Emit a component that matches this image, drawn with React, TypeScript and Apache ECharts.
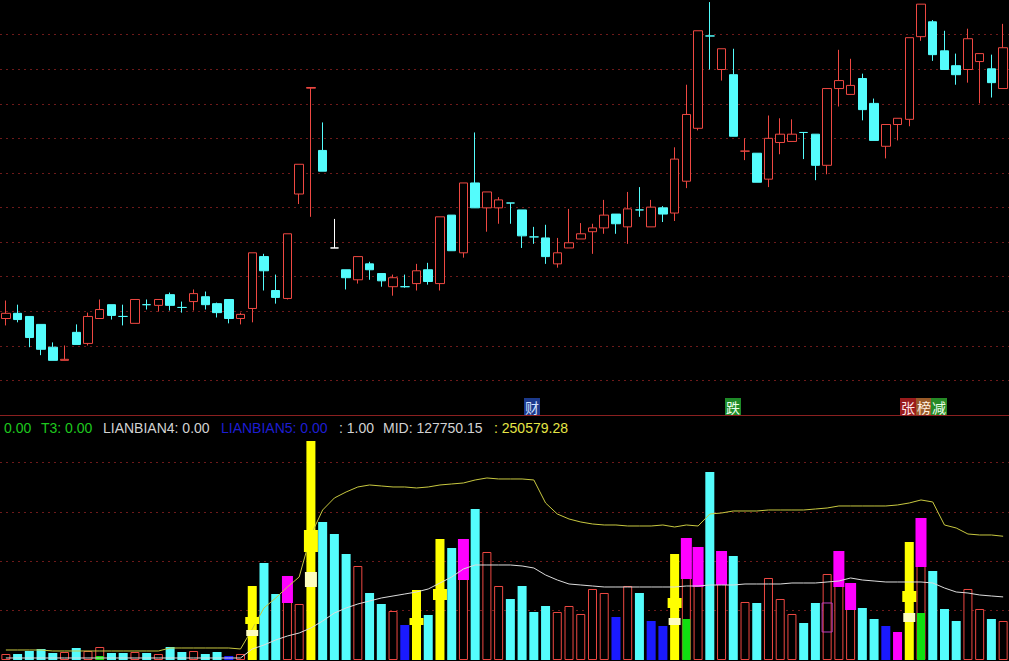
import React, { useEffect, useRef } from "react";
import * as echarts from "echarts";

// ---------- DATA ----------
const categories = Array.from({ length: 86 }, (_, i) => `D${i + 1}`);

const opens = [
  10.79, 10.94, 10.85, 10.62, 9.96, 9.58, 10.39, 10.07, 10.79, 11.19,
  10.85, 10.65, 11.19, 11.17, 11.48, 11.11, 11.28, 11.42, 11.22, 11.34,
  10.79, 11.08, 12.58, 11.6, 11.37, 14.39, 17.45, 15.65, 12.83, 12.2,
  11.91, 12.37, 12.09, 11.71, 11.71, 11.8, 12.2, 11.8, 13.78, 12.69,
  14.71, 13.99, 13.99, 14.13, 13.93, 13.15, 13.12, 12.37, 12.83, 13.09,
  13.3, 13.41, 13.81, 13.44, 13.93, 13.44, 13.99, 13.84, 14.76, 16.29,
  18.96, 17.99, 17.84, 15.63, 15.57, 14.82, 15.88, 15.91, 16.17, 16.12,
  15.22, 17.44, 17.27, 17.73, 17.01, 15.77, 16.4, 16.55, 18.94, 19.37,
  18.53, 18.1, 17.99, 18.22, 18.01, 17.44,
];
const closes = [
  10.94, 10.76, 10.24, 9.9, 9.58, 9.61, 10.04, 10.85, 11.05, 10.88,
  10.85, 11.34, 11.19, 11.34, 11.17, 11.11, 11.51, 11.19, 10.96, 10.79,
  10.91, 12.69, 12.17, 11.4, 13.24, 15.25, 17.47, 15.05, 12.83, 11.97,
  12.58, 12.2, 11.88, 11.97, 11.71, 12.17, 11.86, 13.73, 12.75, 14.71,
  13.99, 14.45, 14.22, 14.13, 13.18, 13.15, 12.58, 12.69, 12.98, 13.24,
  13.41, 13.78, 13.53, 13.96, 13.93, 14.01, 13.81, 15.4, 16.69, 19.11,
  18.96, 18.59, 16.06, 15.63, 14.73, 16.0, 16.12, 16.12, 16.17, 15.22,
  17.44, 17.67, 17.53, 16.83, 15.94, 16.4, 16.58, 18.91, 19.88, 18.42,
  17.99, 17.84, 18.88, 18.45, 17.61, 18.62,
];
const lows = [
  10.59, 10.68, 9.96, 9.73, 9.58, 9.58, 10.04, 10.01, 10.79, 10.76,
  10.59, 10.65, 11.05, 10.99, 11.02, 10.96, 11.02, 11.05, 10.82, 10.65,
  10.62, 10.68, 11.6, 11.22, 11.34, 14.1, 13.73, 15.05, 12.83, 11.63,
  11.8, 11.91, 11.71, 11.45, 11.68, 11.6, 11.77, 11.6, 12.75, 12.55,
  13.99, 13.3, 13.53, 13.53, 12.83, 12.95, 12.37, 12.26, 12.83, 13.09,
  12.66, 13.24, 13.24, 12.95, 13.73, 13.44, 13.58, 13.61, 14.56, 16.23,
  17.99, 17.67, 16.06, 15.37, 14.73, 14.59, 15.54, 15.91, 15.4, 14.79,
  14.96, 16.92, 17.27, 16.52, 15.94, 15.42, 15.94, 16.35, 18.82, 18.24,
  17.99, 17.55, 17.61, 17.01, 17.18, 17.44,
];
const highs = [
  11.31, 11.19, 10.85, 10.62, 10.1, 10.01, 10.62, 10.96, 11.34, 11.19,
  11.19, 11.34, 11.34, 11.34, 11.54, 11.28, 11.63, 11.57, 11.25, 11.34,
  10.96, 12.69, 12.66, 12.06, 13.24, 15.25, 17.47, 16.46, 13.67, 12.2,
  12.58, 12.43, 12.09, 12.06, 12.06, 12.37, 12.4, 13.73, 13.78, 14.71,
  16.17, 14.45, 14.3, 14.13, 13.93, 13.44, 13.5, 13.12, 13.96, 13.55,
  13.53, 14.22, 13.81, 14.45, 14.59, 14.22, 14.04, 15.74, 17.55, 19.11,
  19.94, 18.59, 18.59, 16.0, 15.57, 16.66, 16.58, 16.55, 16.17, 16.12,
  17.44, 18.56, 18.3, 17.87, 17.15, 16.4, 16.58, 18.91, 19.88, 19.42,
  19.11, 18.45, 19.17, 18.45, 18.42, 19.31,
];
// u = up (red hollow), d = down (cyan), w = flat (white)
const candleKinds = [
  "u", "d", "d", "d", "d", "u", "d", "u", "u", "d",
  "d", "u", "d", "u", "d", "d", "u", "d", "d", "d",
  "u", "u", "d", "d", "u", "u", "u", "d", "w", "d",
  "u", "d", "d", "u", "d", "u", "d", "u", "d", "u",
  "d", "u", "u", "d", "d", "d", "d", "u", "u", "u",
  "u", "u", "d", "u", "d", "u", "d", "u", "u", "u",
  "d", "u", "d", "u", "d", "u", "u", "u", "d", "d",
  "u", "u", "u", "d", "d", "u", "u", "u", "u", "d",
  "d", "d", "u", "u", "d", "u",
];

const volumes = [
  12150, 12150, 18225, 22275, 14175, 16200, 24300, 18225, 26325, 14175,
  14175, 16200, 14175, 12150, 26325, 16200, 18225, 12150, 16200, 8100,
  12150, 149850, 196425, 133650, 170100, 113400, 443475, 279450, 255150, 214650,
  190350, 135675, 113400, 99225, 70875, 141750, 91125, 245025, 226800, 245025,
  305775, 218700, 149850, 123525, 149850, 97200, 109350, 97200, 109350, 93150,
  143775, 135675, 87075, 149850, 135675, 78975, 68850, 214650, 247050, 228825,
  380700, 220725, 210600, 117450, 115425, 166050, 123525, 93150, 74925, 115425,
  174150, 220725, 155925, 105300, 83025, 68850, 56700, 238950, 287550, 180225,
  103275, 78975, 143775, 103275, 83025, 78975,
];
// u red hollow, d cyan, b blue, y yellow, m magenta
const volKinds = [
  "u", "d", "d", "d", "d", "u", "d", "u", "u", "d",
  "d", "u", "d", "u", "d", "d", "u", "d", "d", "b",
  "u", "y", "d", "d", "u", "u", "y", "d", "d", "d",
  "u", "d", "d", "u", "b", "y", "d", "y", "d", "u",
  "d", "u", "u", "d", "d", "d", "d", "u", "u", "u",
  "u", "u", "b", "u", "d", "b", "b", "y", "u", "u",
  "d", "u", "d", "u", "d", "u", "u", "u", "d", "d",
  "u", "u", "u", "d", "d", "b", "m", "y", "u", "d",
  "d", "d", "u", "u", "d", "u",
];

// [index, low, high]
const magentaBoxes = [
  [24, 115425, 170100], [39, 162000, 245025], [58, 164025, 247050], [59, 147825, 228825],
  [61, 151875, 220725], [71, 147825, 220725], [72, 101250, 155925], [78, 188325, 287550],
];
const magentaOutline = [[70, 56700, 115425]];
const greenFills = [[8, 0, 8100], [58, 0, 83025], [78, 0, 95175]];
const yellowMarks = [
  [21, 72900, 87075], [26, 218700, 263250], [35, 70875, 85050],
  [37, 121500, 143775], [57, 105300, 125550], [77, 117450, 139725],
];
const paleMarks = [[21, 48600, 60750], [26, 147825, 178200], [57, 70875, 85050], [77, 76950, 95175]];

const upperLine = [
  20250, 20250, 20250, 20250, 18225, 18225, 18225, 18225, 18225, 18225,
  18225, 18225, 18225, 18225, 24300, 24300, 24300, 24300, 24300, 24300,
  22275, 62775, 105300, 125550, 147825, 168075, 253125, 303750, 328050, 340200,
  350325, 354375, 352350, 350325, 350325, 348300, 350325, 354375, 356400, 358425,
  364500, 368550, 366525, 366525, 366525, 364500, 317925, 295650, 285525, 279450,
  275400, 273375, 273375, 271350, 271350, 271350, 273375, 269325, 273375, 271350,
  295650, 297675, 301725, 301725, 301725, 303750, 303750, 303750, 303750, 305775,
  307800, 311850, 311850, 311850, 311850, 311850, 313875, 317925, 324000, 319950,
  273375, 267300, 255150, 253125, 253125, 250579,
];
const midLine = [
  4050, 4050, 4050, 4050, 4050, 4050, 4050, 4050, 4050, 4050,
  4050, 4050, 4050, 4050, 4050, 4050, 4050, 4050, 4050, 4050,
  4050, 22275, 30375, 40500, 48600, 54675, 64800, 78975, 95175, 105300,
  113400, 119475, 125550, 129600, 133650, 137700, 143775, 155925, 168075, 184275,
  192375, 192375, 192375, 192375, 190350, 186300, 172125, 162000, 153900, 151875,
  149850, 147825, 147825, 147825, 147825, 147825, 147825, 147825, 149850, 149850,
  151875, 151875, 151875, 153900, 153900, 153900, 153900, 155925, 155925, 155925,
  157950, 159975, 166050, 162000, 159975, 157950, 157950, 157950, 157950, 155925,
  145800, 137700, 135675, 131625, 129600, 127750,
];

const legendItems = [
  { text: "0.00", x: 4, color: "#1ec81e" },
  { text: "T3: 0.00", x: 41, color: "#1ec81e" },
  { text: "LIANBIAN4: 0.00", x: 103, color: "#d2d2d2" },
  { text: "LIANBIAN5: 0.00", x: 221, color: "#1e1ed2" },
  { text: ": 1.00", x: 339, color: "#d2d2d2" },
  { text: "MID: 127750.15", x: 383, color: "#d2d2d2" },
  { text: ": 250579.28", x: 494, color: "#e6e646" },
];
const signItems = [
  { text: "财", x: 524, bg: "#1c3a8c", color: "#d0e0ff" },
  { text: "跌", x: 725, bg: "#1e8a28", color: "#eaffea" },
  { text: "张", x: 900, bg: "#9a1c1c", color: "#ffe6e6" },
  { text: "榜", x: 916, bg: "#9a5a28", color: "#fff0e0" },
  { text: "减", x: 931, bg: "#268a26", color: "#eaffea" },
];

// ---------- COLORS ----------
const RED = "#ee4842";
const CYAN = "#54fcfc";
const GRIDC = "#6e1a1a";

export default function App() {
  const ref = useRef<HTMLDivElement>(null);
  useEffect(() => {
    document.body.style.margin = "0";
    document.body.style.background = "#000";
    const chart = echarts.init(ref.current!, undefined, { renderer: "svg" });

    const candleData = opens.map((o, i) => {
      const k = candleKinds[i];
      const fill = k === "u" ? "#000" : k === "d" ? CYAN : "#ffffff";
      const stroke = k === "u" ? RED : k === "d" ? CYAN : "#ffffff";
      return {
        value: [o, closes[i], lows[i], highs[i]],
        itemStyle: { color: fill, color0: fill, borderColor: stroke, borderColor0: stroke, borderColorDoji: stroke, borderWidth: 1 },
      };
    });

    const volColor: Record<string, string> = { d: CYAN, b: "#1a1aff", y: "#ffff00", m: "#ff00ff" };
    const volData = volumes.map((v, i) => {
      const k = volKinds[i];
      if (k === "u") return { value: v, itemStyle: { color: "#000", borderColor: RED, borderWidth: 1 } };
      return { value: v, itemStyle: { color: volColor[k], borderColor: volColor[k], borderWidth: 0 } };
    });

    const rectSeries = (data: number[][], width: number, fill: string, stroke: string | null, z: number) => ({
      type: "custom",
      xAxisIndex: 1,
      yAxisIndex: 1,
      data,
      z,
      silent: true,
      encode: { x: 0, y: [1, 2] },
      renderItem: (_p: any, api: any) => {
        const i = api.value(0);
        const top = api.coord([i, api.value(2)]);
        const bot = api.coord([i, api.value(1)]);
        return {
          type: "rect",
          shape: { x: top[0] - width / 2, y: top[1], width, height: bot[1] - top[1] },
          style: { fill, stroke: stroke || undefined, lineWidth: stroke ? 1 : 0 },
        };
      },
    });

    const splitLine = {
      show: true,
      showMinLine: false,
      showMaxLine: false,
      lineStyle: { color: GRIDC, type: [2, 4] as any, width: 1 },
    };

    const graphics: any[] = [];
    legendItems.forEach((t) =>
      graphics.push({
        type: "text",
        x: t.x,
        y: 428,
        style: { text: t.text, fill: t.color, font: '14px "Liberation Sans", Arial, sans-serif', verticalAlign: "middle" },
      })
    );
    signItems.forEach((s) => {
      graphics.push({ type: "rect", shape: { x: s.x, y: 398, width: 16, height: 17 }, style: { fill: s.bg } });
      graphics.push({
        type: "text",
        x: s.x + 8,
        y: 406.5,
        style: { text: s.text, fill: s.color, font: '14px "Noto Sans CJK SC", sans-serif', align: "center", verticalAlign: "middle" },
      });
    });

    const option: any = {
      animation: false,
      backgroundColor: "#000",
      grid: [
        { left: -2, right: 0, top: -2, height: 417 },
        { left: -2, right: 0, top: 418, height: 242 },
      ],
      xAxis: [
        {
          type: "category", gridIndex: 0, data: categories, boundaryGap: true,
          axisLine: { show: true, onZero: false, lineStyle: { color: "#8a2020", width: 1 } },
          axisTick: { show: false }, axisLabel: { show: false }, splitLine: { show: false },
        },
        {
          type: "category", gridIndex: 1, data: categories, boundaryGap: true,
          axisLine: { show: false }, axisTick: { show: false }, axisLabel: { show: false }, splitLine: { show: false },
        },
      ],
      yAxis: [
        {
          type: "value", gridIndex: 0, min: 8, max: 20, interval: 1, scale: false,
          axisLine: { show: false }, axisTick: { show: false }, axisLabel: { show: false }, splitLine,
        },
        {
          type: "value", gridIndex: 1, min: 0, max: 490000, interval: 100000,
          axisLine: { show: false }, axisTick: { show: false }, axisLabel: { show: false }, splitLine,
        },
      ],
      series: [
        {
          type: "candlestick", xAxisIndex: 0, yAxisIndex: 0, data: candleData, barWidth: 9, z: 3,
        },
        {
          type: "bar", xAxisIndex: 1, yAxisIndex: 1, data: volData, barWidth: 9, z: 2,
        },
        rectSeries(greenFills, 8, "#10e010", null, 4),
        rectSeries(magentaBoxes, 11, "#ff00ff", null, 4),
        rectSeries(magentaOutline, 10, "rgba(0,0,0,0)", "#c040c0", 4),
        {
          type: "line", xAxisIndex: 1, yAxisIndex: 1, data: upperLine, symbol: "none", z: 6,
          lineStyle: { color: "#c8c840", width: 1 },
        },
        {
          type: "line", xAxisIndex: 1, yAxisIndex: 1, data: midLine, symbol: "none", z: 6,
          lineStyle: { color: "#dcdcdc", width: 1 },
        },
        rectSeries(yellowMarks, 14, "#ffff00", null, 7),
        rectSeries(paleMarks, 12, "#fdfdc0", null, 7),
      ],
      graphic: graphics,
    };
    chart.setOption(option);
    return () => chart.dispose();
  }, []);
  return <div ref={ref} style={{ position: "absolute", left: 0, top: 0, width: 1009, height: 661 }} />;
}
